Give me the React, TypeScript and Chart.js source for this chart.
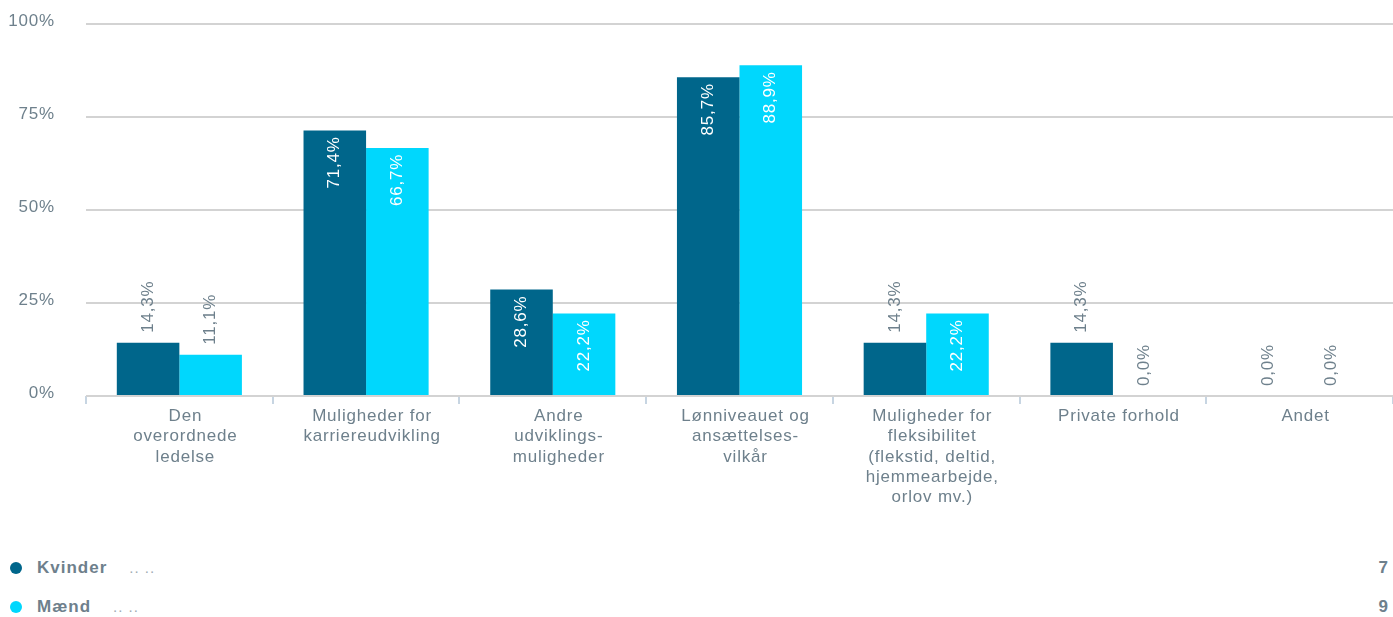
import React, { useEffect, useRef } from "react";
import { Chart, registerables } from "chart.js";

Chart.register(...registerables);

const categories: string[][] = [
  ["Den", "overordnede", "ledelse"],
  ["Muligheder for", "karriereudvikling"],
  ["Andre", "udviklings-", "muligheder"],
  ["Lønniveauet og", "ansættelses-", "vilkår"],
  ["Muligheder for", "fleksibilitet", "(flekstid, deltid,", "hjemmearbejde,", "orlov mv.)"],
  ["Private forhold"],
  ["Andet"],
];
const kvinder: number[] = [14.3, 71.4, 28.6, 85.7, 14.3, 14.3, 0];
const maend: number[] = [11.1, 66.7, 22.2, 88.9, 22.2, 0, 0];
const seriesNames: string[] = ["Kvinder", "Mænd"];
const seriesCounts: number[] = [7, 9];
const yTicks: number[] = [0, 25, 50, 75, 100];

const DARK = "#00668b";
const LIGHT = "#00d7fd";
const GREY = "#6e808c";
const FONT = '"Liberation Sans", Arial, sans-serif';

const labelPlugin = {
  id: "barLabels",
  beforeDraw(chart: any) {
    chart.ctx.letterSpacing = "0.8px";
  },
  afterDatasetsDraw(chart: any) {
    const ctx = chart.ctx;
    chart.data.datasets.forEach((ds: any, i: number) => {
      const meta = chart.getDatasetMeta(i);
      meta.data.forEach((bar: any, j: number) => {
        const v = ds.data[j] as number;
        const text = v.toFixed(1).replace(".", ",") + "%";
        ctx.save();
        ctx.letterSpacing = "0.8px";
        ctx.font = `17px ${FONT}`;
        const w = ctx.measureText(text).width;
        const h = bar.base - bar.y;
        const inside = h > w + 14;
        ctx.translate(bar.x, inside ? bar.y + 6 : bar.y - 10);
        ctx.rotate(-Math.PI / 2);
        ctx.textAlign = inside ? "right" : "left";
        ctx.textBaseline = "middle";
        ctx.fillStyle = inside ? "#ffffff" : GREY;
        ctx.fillText(text, 0, 0);
        ctx.restore();
      });
    });
  },
};

export default function App() {
  const ref = useRef<HTMLCanvasElement | null>(null);

  useEffect(() => {
    document.body.style.margin = "0";
    const chart = new Chart(ref.current as HTMLCanvasElement, {
      type: "bar",
      data: {
        labels: categories,
        datasets: [
          {
            label: seriesNames[0],
            data: kvinder,
            backgroundColor: DARK,
            categoryPercentage: 0.67,
            barPercentage: 1,
          },
          {
            label: seriesNames[1],
            data: maend,
            backgroundColor: LIGHT,
            categoryPercentage: 0.67,
            barPercentage: 1,
          },
        ],
      },
      options: {
        animation: false,
        responsive: true,
        maintainAspectRatio: false,
        layout: { padding: { top: 24, right: 0, left: 0, bottom: 0 } },
        plugins: { legend: { display: false }, tooltip: { enabled: false } },
        scales: {
          x: {
            offset: true,
            grid: {
              display: true,
              drawOnChartArea: false,
              drawTicks: true,
              tickLength: 8,
              color: "#c7d5e2",
              lineWidth: 2,
              offset: true,
            },
            border: { display: false },
            ticks: {
              autoSkip: false,
              maxRotation: 0,
              minRotation: 0,
              padding: 2,
              labelOffset: 6,
              color: GREY,
              font: { family: FONT, size: 17, lineHeight: 1.2 },
            },
            afterFit(scale: any) {
              scale.height = 540 - 396;
            },
          },
          y: {
            min: 0,
            max: 100,
            afterBuildTicks(scale: any) {
              scale.ticks = yTicks.map((v) => ({ value: v }));
            },
            grid: { color: "#d3d3d3", lineWidth: 2, drawTicks: false },
            border: { display: false },
            ticks: {
              padding: 31,
              labelOffset: -3,
              color: GREY,
              font: { family: FONT, size: 17 },
              callback: (v: any) => `${v}%`,
            },
            afterFit(scale: any) {
              scale.width = 86;
              scale.paddingTop = 0;
              scale.paddingBottom = 0;
            },
          },
        },
      },
      plugins: [labelPlugin],
    });
    return () => chart.destroy();
  }, []);

  const rowStyle = (top: number): React.CSSProperties => ({
    position: "absolute",
    left: 0,
    top,
    width: 1393,
    height: 20,
    display: "flex",
    alignItems: "center",
    fontFamily: FONT,
  });

  return (
    <div style={{ position: "relative", width: 1393, height: 617, overflow: "hidden" }}>
      <div style={{ position: "absolute", left: 0, top: 0, width: 1393, height: 540 }}>
        <canvas ref={ref} />
      </div>
      {seriesNames.map((name, i) => (
        <div key={name} style={rowStyle(i === 0 ? 558 : 597)}>
          <span
            style={{
              position: "absolute",
              left: 10,
              top: 4,
              width: 12,
              height: 12,
              borderRadius: "50%",
              background: i === 0 ? DARK : LIGHT,
            }}
          />
          <span
            style={{
              position: "absolute",
              left: 37,
              fontWeight: "bold",
              fontSize: 17,
              letterSpacing: "1px",
              color: GREY,
            }}
          >
            {name}
            <span style={{ fontWeight: "normal", color: "#a0abb3", marginLeft: 22, fontSize: 15, letterSpacing: "1px" }}>
              .. ..
            </span>
          </span>
          <span
            style={{
              position: "absolute",
              right: 5,
              fontWeight: "bold",
              fontSize: 17,
              color: GREY,
            }}
          >
            {seriesCounts[i]}
          </span>
        </div>
      ))}
    </div>
  );
}
